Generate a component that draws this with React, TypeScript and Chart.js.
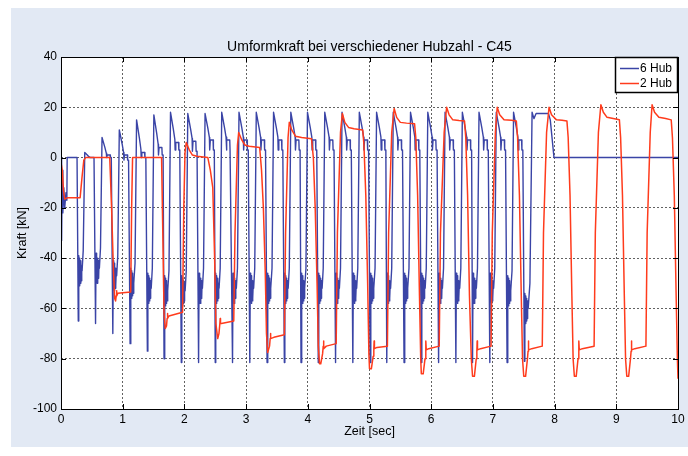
import React, { useEffect, useRef } from "react";
import { Chart, registerables } from "chart.js";

Chart.register(...registerables);

// ---------- texts ----------
const TITLE = "Umformkraft bei verschiedener Hubzahl - C45";
const X_TITLE = "Zeit [sec]";
const Y_TITLE = "Kraft [kN]";
const SERIES_NAMES = ["6 Hub", "2 Hub"];

// ---------- ticks ----------
const X_TICKS = [0, 1, 2, 3, 4, 5, 6, 7, 8, 9, 10];
const Y_TICKS = [-100, -80, -60, -40, -20, 0, 20, 40];

// ---------- 6 Hub (blue) ----------
// start of the record
const blueLeadTime = [0, 0.01, 0.02, 0.03, 0.045, 0.06, 0.08, 0.095, 0.1, 0.26];
const blueLeadForce = [0, -33, -5, -22, -12, -20, -14, -17, 0, 0];
// one entry per stroke: time of the minimum, minimum, level of the noisy part after it
const blueMinTime = [
  0.28, 0.56, 0.84, 1.12, 1.4, 1.67, 1.95, 2.23, 2.5, 2.78, 3.06, 3.34, 3.62, 3.89,
  4.17, 4.45, 4.73, 5.01, 5.28, 5.56, 5.84, 6.12, 6.4, 6.67, 6.95, 7.23, 7.51,
];
const blueMinForce = [
  -65, -66, -70, -74, -77, -80, -81.5, -81.5, -81.5, -81.5, -81.5, -81.5, -81.5, -81.5,
  -81.5, -81.5, -81.5, -81.5, -81.5, -81.5, -81.5, -81.5, -81.5, -81.5, -81.5, -81.5, -81,
];
const blueBlobForce = [
  -45, -44, -47, -50, -52, -53, -53, -52, -52, -52, -52, -52, -52, -52,
  -52, -52, -52, -52, -52, -52, -52, -52, -52, -52, -52, -53, -60,
];
// top of each stroke: peak, plateau level, notch depth
const bluePeakForce = [
  2, 8, 11, 15, 17, 18, 17.5, 17.5, 18, 18, 18, 18, 18, 18,
  18, 18, 18, 18, 18, 18, 18, 18, 18, 18, 18, 18,
];
const bluePlateauForce = [
  0, 1, 1, 2, 4, 6, 6.5, 7, 7, 7, 7, 7, 7, 7,
  7, 7, 7, 7, 7, 7, 7, 7, 7, 7, 7, 7,
];
const blueNotchDepth = [
  0, 1, 2, 2, 3, 3, 4, 4, 4, 4, 4, 4, 4, 4,
  4, 4, 4, 4, 4, 4, 4, 4, 4, 4, 4, 4,
];
// noise after each minimum (time after the minimum, offset from the level)
const blueRippleTime = [0.008, 0.014, 0.02, 0.026, 0.032, 0.038, 0.044, 0.05, 0.056, 0.062];
const blueRippleForce = [6, -5, 5, -6, 4, -5, 3, -4, 2, 0];
// end of the record
const blueTailTime = [7.6, 7.635, 7.665, 7.7, 7.9, 7.93, 7.99, 10];
const blueTailForce = [-50, 18, 15.5, 17.5, 17.5, 15, 0, 0];

// ---------- 2 Hub (red) ----------
const redTime = [
  0, 0.02, 0.04, 0.06, 0.1, 0.31, 0.34, 0.37, 0.4, 0.79,
  0.82, 0.85, 0.87, 0.885, 0.895, 0.9, 0.905, 0.92, 1.13,
  1.145, 1.16, 1.63,
  1.65, 1.67, 1.69, 1.71, 1.72, 1.725, 1.73, 1.75, 1.97,
  1.99, 2.01, 2.03, 2.08, 2.13, 2.2, 2.38, 2.42, 2.46, 2.49, 2.51, 2.54, 2.56, 2.575, 2.58, 2.585, 2.6, 2.8,
  2.82, 2.86, 2.88, 2.93, 2.98, 3.05, 3.22, 3.25, 3.28, 3.31, 3.33, 3.35, 3.38, 3.39, 3.395, 3.4, 3.45, 3.62,
  3.64, 3.68, 3.7, 3.74, 3.8, 3.9, 4.06, 4.09, 4.12, 4.15, 4.17, 4.19, 4.21, 4.24, 4.25, 4.255, 4.26, 4.3, 4.46,
  4.48, 4.53, 4.56, 4.6, 4.66, 4.75, 4.89, 4.91, 4.94, 4.97, 4.99, 5.0, 5.03, 5.06, 5.07, 5.075, 5.08, 5.12, 5.29,
  5.31, 5.36, 5.4, 5.44, 5.5, 5.6, 5.73, 5.75, 5.78, 5.81, 5.83, 5.84, 5.87, 5.9, 5.91, 5.915, 5.92, 5.96, 6.13,
  6.15, 6.21, 6.25, 6.29, 6.35, 6.45, 6.54, 6.56, 6.59, 6.62, 6.65, 6.67, 6.7, 6.73, 6.74, 6.745, 6.75, 6.8, 6.97,
  6.99, 7.04, 7.07, 7.11, 7.18, 7.3, 7.38, 7.4, 7.43, 7.46, 7.48, 7.5, 7.53, 7.56, 7.57, 7.575, 7.58, 7.63, 7.8,
  7.82, 7.87, 7.91, 7.95, 8.03, 8.12, 8.2, 8.22, 8.25, 8.28, 8.3, 8.32, 8.35, 8.38, 8.39, 8.395, 8.4, 8.45, 8.64,
  8.66, 8.71, 8.75, 8.79, 8.85, 8.95, 9.05, 9.07, 9.1, 9.13, 9.15, 9.17, 9.2, 9.23, 9.24, 9.245, 9.25, 9.3, 9.48,
  9.5, 9.55, 9.58, 9.62, 9.69, 9.8, 9.89, 9.91, 9.94, 9.97, 9.99, 10,
];
const redForce = [
  -2, -5, -13, -16.5, -16, -16, -8, -1, 0, 0,
  -20, -45, -56, -57, -55, -53, -55, -54, -53.5,
  -20, 0, 0,
  -30, -62, -68, -67, -64, -62, -64, -63, -61.5,
  -20, 2, 6, 3, 1, 0.5, 0, -5, -12, -40, -66, -72, -70, -66, -64, -66, -66, -65,
  -30, 5, 10, 7, 5, 4.5, 4, -5, -20, -45, -70, -77.5, -75, -72, -70, -72, -71.5, -70.5,
  -30, 8, 14, 11, 8.5, 8, 7.5, 0, -20, -50, -75, -82, -82, -78, -75, -73, -76, -75, -74,
  -30, 10, 17.5, 14, 12, 11.5, 11, 5, -15, -50, -78, -84, -84, -79, -76, -73, -76, -75.5, -75,
  -30, 10, 19.5, 16, 14, 13.7, 13.5, 8, -15, -55, -80, -86, -86, -80, -77, -73, -76.5, -76, -75,
  -30, 10, 20, 17, 15, 14.7, 14.5, 8, -15, -55, -80, -87, -87, -80, -77, -73, -76.5, -76, -75,
  -30, 10, 20, 17, 15, 14.8, 14.5, 8, -15, -55, -80, -87, -87, -80, -77, -73, -76.5, -76, -75,
  -30, 10, 20, 17, 15, 14.8, 14.5, 8, -15, -55, -80, -87, -87, -80, -77, -73, -76.5, -76, -75,
  -30, 10, 21, 18, 16, 15.5, 15, 8, -15, -55, -80, -87, -87, -80, -77, -73, -76.5, -76, -75,
  -30, 10, 21, 18, 16, 15.5, 15, 8, -15, -55, -80, -88,
];

// ---------- styles ----------
const BLUE = "#3a44a6";
const RED = "#ff3b1c";
const PANEL = "#e2e9f4";
const FONT = '"Liberation Sans", Arial, Helvetica, sans-serif';

type Pt = { x: number; y: number };

function buildBlue(): Pt[] {
  const pts: Pt[] = [];
  blueLeadTime.forEach((t, i) => pts.push({ x: t, y: blueLeadForce[i] }));
  blueMinTime.forEach((m, k) => {
    pts.push({ x: m, y: blueMinForce[k] });
    blueRippleTime.forEach((dt, j) => pts.push({ x: m + dt, y: blueBlobForce[k] + blueRippleForce[j] }));
    if (k < bluePeakForce.length) {
      const P = bluePeakForce[k];
      const L = bluePlateauForce[k];
      const d = blueNotchDepth[k];
      pts.push({ x: m + 0.08, y: blueBlobForce[k] + 8 });
      pts.push({ x: m + 0.105, y: P });
      pts.push({ x: m + 0.15, y: L + 0.45 * (P - L) });
      pts.push({ x: m + 0.175, y: L + 0.1 * (P - L) });
      pts.push({ x: m + 0.18, y: L - d });
      pts.push({ x: m + 0.19, y: L });
      pts.push({ x: m + 0.235, y: L });
      pts.push({ x: m + 0.24, y: L - d });
      pts.push({ x: m + 0.255, y: L - d });
    }
  });
  blueTailTime.forEach((t, i) => pts.push({ x: t, y: blueTailForce[i] }));
  return pts;
}

function buildRed(): Pt[] {
  return redTime.map((t, i) => ({ x: t, y: redForce[i] }));
}

const decorPlugin = {
  id: "decor",
  beforeDraw(chart: any) {
    const { ctx, width, height, chartArea } = chart;
    ctx.save();
    ctx.fillStyle = "#ffffff";
    ctx.fillRect(0, 0, width, height);
    ctx.fillStyle = PANEL;
    ctx.fillRect(11, 8, width - 11, 439);
    ctx.fillStyle = "#ffffff";
    ctx.fillRect(chartArea.left, chartArea.top, chartArea.right - chartArea.left, chartArea.bottom - chartArea.top);
    ctx.restore();
  },
  afterDatasetsDraw(chart: any) {
    const { ctx, chartArea, scales } = chart;
    const { left, right, top, bottom } = chartArea;
    ctx.save();
    // axes box
    ctx.strokeStyle = "#000";
    ctx.lineWidth = 1;
    ctx.strokeRect(Math.round(left) + 0.5, Math.round(top) + 0.5, Math.round(right - left), Math.round(bottom - top));
    // inward ticks
    const tl = 5;
    ctx.beginPath();
    X_TICKS.forEach((v) => {
      const px = Math.round(scales.x.getPixelForValue(v)) + 0.5;
      ctx.moveTo(px, bottom);
      ctx.lineTo(px, bottom - tl);
      ctx.moveTo(px, top);
      ctx.lineTo(px, top + tl);
    });
    Y_TICKS.forEach((v) => {
      const py = Math.round(scales.y.getPixelForValue(v)) + 0.5;
      ctx.moveTo(left, py);
      ctx.lineTo(left + tl, py);
      ctx.moveTo(right, py);
      ctx.lineTo(right - tl, py);
    });
    ctx.stroke();

    // legend
    const bx = right - 63;
    const by = top;
    const bw = 62;
    const bh = 35;
    ctx.fillStyle = "#fff";
    ctx.fillRect(bx, by, bw, bh);
    ctx.lineWidth = 1.5;
    ctx.strokeStyle = "#000";
    ctx.strokeRect(bx + 0.5, by + 0.5, bw, bh);
    const rows = [
      { name: SERIES_NAMES[0], color: BLUE, y: by + 11.5 },
      { name: SERIES_NAMES[1], color: RED, y: by + 26.5 },
    ];
    ctx.font = "12px " + FONT;
    ctx.textAlign = "left";
    ctx.textBaseline = "middle";
    rows.forEach((r) => {
      ctx.strokeStyle = r.color;
      ctx.lineWidth = 1.5;
      ctx.beginPath();
      ctx.moveTo(bx + 5, r.y);
      ctx.lineTo(bx + 24, r.y);
      ctx.stroke();
      ctx.fillStyle = "#000";
      ctx.fillText(r.name, bx + 25, r.y + 0.5);
    });
    ctx.restore();
  },
  afterDraw(chart: any) {
    const { ctx, chartArea } = chart;
    const cx = (chartArea.left + chartArea.right) / 2;
    const cy = (chartArea.top + chartArea.bottom) / 2;
    ctx.save();
    ctx.fillStyle = "#000";
    ctx.textAlign = "center";
    ctx.textBaseline = "middle";
    ctx.font = "14px " + FONT;
    ctx.fillText(TITLE, cx, 47);
    ctx.font = "12.5px " + FONT;
    ctx.fillText(X_TITLE, cx, 432);
    ctx.translate(23, cy);
    ctx.rotate(-Math.PI / 2);
    ctx.font = "12.5px " + FONT;
    ctx.fillText(Y_TITLE, 0, 0);
    ctx.restore();
  },
};

export default function App() {
  const canvasRef = useRef<HTMLCanvasElement | null>(null);

  useEffect(() => {
    const canvas = canvasRef.current;
    if (!canvas) return;
    const chart = new Chart(canvas, {
      type: "line",
      data: {
        datasets: [
          {
            label: SERIES_NAMES[1],
            data: buildRed(),
            borderColor: RED,
            borderWidth: 1.5,
            pointRadius: 0,
            tension: 0,
            borderJoinStyle: "round",
            fill: false,
          },
          {
            label: SERIES_NAMES[0],
            data: buildBlue(),
            borderColor: BLUE,
            borderWidth: 1.4,
            pointRadius: 0,
            tension: 0,
            borderJoinStyle: "round",
            fill: false,
          },
        ],
      },
      options: {
        animation: false,
        responsive: false,
        devicePixelRatio: 1,
        parsing: false,
        normalized: true,
        events: [],
        layout: { padding: { left: 0, right: 10, top: 57, bottom: 0 } },
        plugins: {
          legend: { display: false },
          title: { display: false },
          tooltip: { enabled: false },
        },
        scales: {
          x: {
            type: "linear",
            min: X_TICKS[0],
            max: X_TICKS[X_TICKS.length - 1],
            afterBuildTicks: (s: any) => {
              s.ticks = X_TICKS.map((v) => ({ value: v }));
            },
            afterFit: (s: any) => {
              s.height = 47;
            },
            ticks: {
              color: "#000",
              font: { family: FONT, size: 12 },
              padding: 3,
              maxRotation: 0,
              autoSkip: false,
            },
            grid: { color: "rgba(70,70,70,0.85)", lineWidth: 1, drawTicks: false },
            border: { display: false, dash: [2, 2] },
          },
          y: {
            type: "linear",
            min: Y_TICKS[0],
            max: Y_TICKS[Y_TICKS.length - 1],
            afterBuildTicks: (s: any) => {
              s.ticks = Y_TICKS.map((v) => ({ value: v }));
            },
            afterFit: (s: any) => {
              s.width = 61;
            },
            ticks: {
              color: "#000",
              font: { family: FONT, size: 12 },
              padding: 4,
              autoSkip: false,
            },
            grid: { color: "rgba(70,70,70,0.85)", lineWidth: 1, drawTicks: false },
            border: { display: false, dash: [2, 2] },
          },
        },
      } as any,
      plugins: [decorPlugin],
    });
    return () => chart.destroy();
  }, []);

  return (
    <div style={{ position: "absolute", left: 0, top: 0, width: 688, height: 456 }}>
      <canvas ref={canvasRef} width={688} height={456} style={{ display: "block", width: 688, height: 456 }} />
    </div>
  );
}
